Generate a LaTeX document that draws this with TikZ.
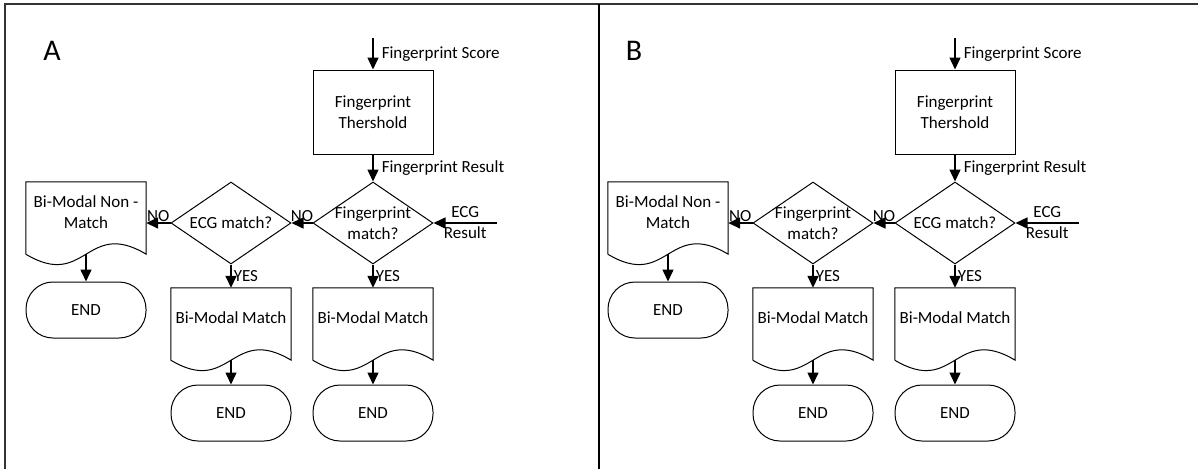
\documentclass[tikz,border=0pt]{standalone}
\usepackage{fontspec}
\setmainfont{Carlito}
\usetikzlibrary{arrows.meta,calc,shapes.geometric}

% outline of a document box: straight top, wavy bottom
\newcommand{\docoutline}[1]{%
  \draw[line width=1pt] (#1.south west) -- (#1.north west) -- (#1.north east) -- (#1.south east)
    .. controls ($(#1.south)+(0,-36)$) and ($(#1.south)+(0,36)$) .. (#1.south west);}

\begin{document}
\begin{tikzpicture}[x=1pt,y=-1pt,>={Triangle[length=12pt,width=11pt]},
    every node/.style={font=\fontsize{17}{21}\selectfont},
    flow/.style={->,line width=1.5pt},
    tag/.style={inner sep=2pt},
    procbox/.style={draw,line width=1pt,minimum width=120pt,minimum height=84pt,align=center},
    decision/.style={draw,diamond,line width=1pt,minimum width=120pt,minimum height=82pt,inner sep=0pt},
    docbox/.style={minimum width=120pt,minimum height=72pt,align=center,text depth=12pt},
    endbox/.style={draw,line width=1pt,rounded corners=27pt,minimum width=120pt,minimum height=56pt}]
    \useasboundingbox (0,0) rectangle (1198,469);

    %/ Frame
    \draw[line width=1.3pt,black!80] (5,469) -- (5,4) -- (1198,4);
    \draw[line width=1.3pt] (599,4) -- (599,469);

    %/ Panels
    \foreach \p/\dx/\qa/\qb in {A/0/{Fingerprint\\match?}/{ECG match?},
                                B/582/{ECG match?}/{Fingerprint\\match?}} {
    \begin{scope}[xshift=\dx pt]
        \node[font=\fontsize{30}{32}\selectfont] (lbl\p) at (52,51) {\p};

        % inputs
        \coordinate (in\p) at (373,38);
        \coordinate (ecg\p) at (497,223);

        % boxes
        \node[procbox] (th\p) at (373,112) {Fingerprint\\Thershold};
        \node[decision,label={[align=center]center:\qa}] (d1\p) at (373,223) {};
        \node[decision,label={[align=center]center:\qb}] (d2\p) at (231,223) {};
        \node[docbox] (nm\p) at (86,218) {Bi-Modal Non -\\Match};
        \node[docbox] (m2\p) at (231,324) {Bi-Modal Match};
        \node[docbox] (m1\p) at (373,324) {Bi-Modal Match};
        \docoutline{nm\p}
        \docoutline{m2\p}
        \docoutline{m1\p}
        \node[endbox] (e0\p) at (86,310) {END};
        \node[endbox] (e2\p) at (231,413) {END};
        \node[endbox] (e1\p) at (373,413) {END};

        % arrows
        \draw[flow] (in\p) -- (th\p) node[midway,right=6pt,tag] {Fingerprint Score};
        \draw[flow] (th\p) -- (d1\p) node[midway,right=6pt,tag] {Fingerprint Result};
        \draw[flow] (ecg\p) -- (d1\p) node[midway,align=center] {ECG\\Result};
        \draw[flow] (d1\p) -- (d2\p) node[midway,above,inner sep=1pt] {NO};
        \draw[flow] (d2\p.west) -- (d2\p.west -| nm\p.east) node[midway,above,inner sep=1pt] {NO};
        \draw[flow] (d1\p) -- (m1\p) node[midway,right,tag] {YES};
        \draw[flow] (d2\p) -- (m2\p) node[midway,right,tag] {YES};
        \draw[flow] (nm\p) -- (e0\p);
        \draw[flow] (m2\p) -- (e2\p);
        \draw[flow] (m1\p) -- (e1\p);
    \end{scope}
    }
\end{tikzpicture}
\end{document}
